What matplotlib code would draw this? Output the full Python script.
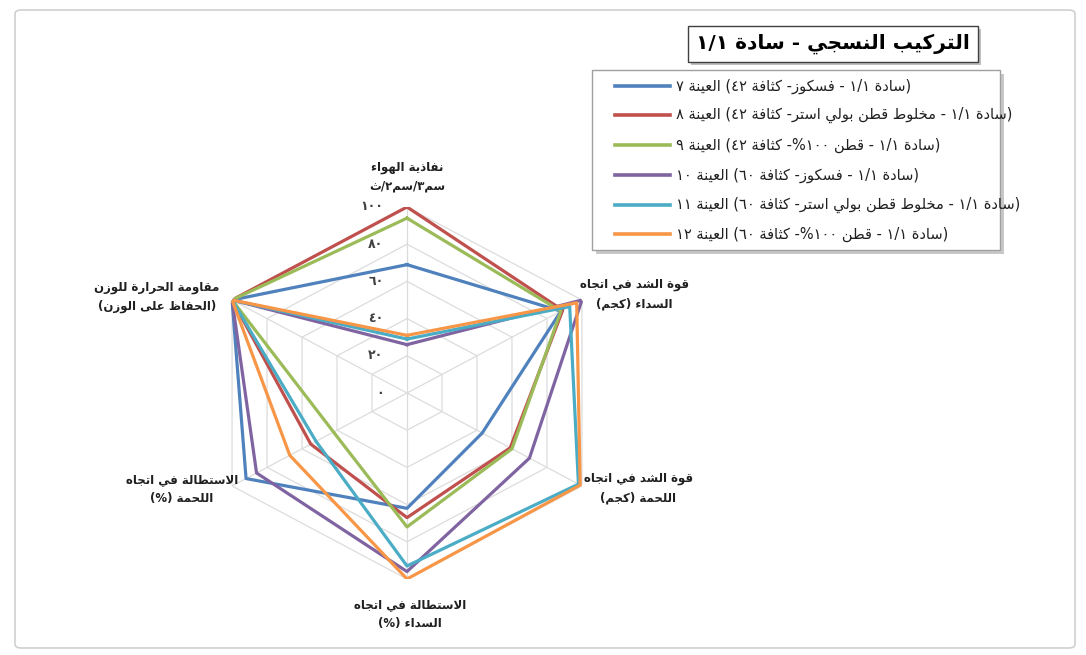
import re
import numpy as np
import matplotlib
matplotlib.use("Agg")
import matplotlib.pyplot as plt
from matplotlib.patches import FancyBboxPatch, Rectangle

# ---------------- data ----------------
categories = [
    ["نفاذية الهواء", "سم٣/سم٢/ث"],
    ["قوة الشد في اتجاه", "السداء (كجم)"],
    ["قوة الشد في اتجاه", "اللحمة (كجم)"],
    ["الاستطالة في اتجاه", "السداء (%)"],
    ["الاستطالة في اتجاه", "اللحمة (%)"],
    ["مقاومة الحرارة للوزن", "(الحفاظ على الوزن)"],
]

series_names = [
    "(سادة ١/١ - فسكوز- كثافة ٤٢) العينة ٧",
    "(سادة ١/١ - مخلوط قطن بولي استر- كثافة ٤٢) العينة ٨",
    "(سادة ١/١ - قطن ١٠٠%- كثافة ٤٢) العينة ٩",
    "(سادة ١/١ - فسكوز- كثافة ٦٠) العينة ١٠",
    "(سادة ١/١ - مخلوط قطن بولي استر- كثافة ٦٠) العينة ١١",
    "(سادة ١/١ - قطن ١٠٠%- كثافة ٦٠) العينة ١٢",
]

sample_7 = [69, 88, 43, 62, 92, 100]
sample_8 = [100, 89, 59, 67, 55, 100]
sample_9 = [94, 88, 60, 72, 42, 100]
sample_10 = [26, 100, 70, 96, 86, 100]
sample_11 = [29, 93, 98, 93, 52, 100]
sample_12 = [31, 97, 99, 100, 67, 100]
series_values = [sample_7, sample_8, sample_9, sample_10, sample_11, sample_12]

ring_values = [0, 20, 40, 60, 80, 100]
ring_labels = ["٠", "٢٠", "٤٠", "٦٠", "٨٠", "١٠٠"]

title_text = "التركيب النسجي - سادة ١/١"

colors = ["#4F81BD", "#C0504D", "#9BBB59", "#8064A2", "#4BACC6", "#F79646"]

# ---------------- arabic shaping for display ----------------
_dual = {'ئ': 0xFE89, 'ب': 0xFE8F, 'ت': 0xFE95, 'ث': 0xFE99, 'ج': 0xFE9D,
         'ح': 0xFEA1, 'خ': 0xFEA5, 'س': 0xFEB1, 'ش': 0xFEB5, 'ص': 0xFEB9,
         'ض': 0xFEBD, 'ط': 0xFEC1, 'ظ': 0xFEC5, 'ع': 0xFEC9, 'غ': 0xFECD,
         'ف': 0xFED1, 'ق': 0xFED5, 'ك': 0xFED9, 'ل': 0xFEDD, 'م': 0xFEE1,
         'ن': 0xFEE5, 'ه': 0xFEE9, 'ي': 0xFEF1}
_right = {'آ': 0xFE81, 'أ': 0xFE83, 'ؤ': 0xFE85, 'إ': 0xFE87, 'ا': 0xFE8D,
          'ة': 0xFE93, 'د': 0xFEA9, 'ذ': 0xFEAB, 'ر': 0xFEAD, 'ز': 0xFEAF,
          'و': 0xFEED, 'ى': 0xFEEF}
_lamalef = {'آ': 0xFEF5, 'أ': 0xFEF7, 'إ': 0xFEF9, 'ا': 0xFEFB}


def _shape(s):
    toks = []
    i = 0
    while i < len(s):
        if s[i] == 'ل' and i + 1 < len(s) and s[i + 1] in _lamalef:
            toks.append(('L', s[i + 1]))
            i += 2
        else:
            toks.append(('C', s[i]))
            i += 1

    def joins_next(t):
        return t[0] == 'C' and t[1] in _dual

    def joins_prev(t):
        return t[0] == 'L' or t[1] in _dual or t[1] in _right

    out = []
    for k, t in enumerate(toks):
        prev = toks[k - 1] if k > 0 else None
        nxt = toks[k + 1] if k + 1 < len(toks) else None
        cp = prev is not None and joins_next(prev) and joins_prev(t)
        cn = nxt is not None and joins_next(t) and joins_prev(nxt)
        if t[0] == 'L':
            out.append(chr(_lamalef[t[1]] + (1 if cp else 0)))
        elif t[1] in _dual:
            b = _dual[t[1]]
            off = 3 if (cp and cn) else 1 if cp else 2 if cn else 0
            out.append(chr(b + off))
        elif t[1] in _right:
            out.append(chr(_right[t[1]] + (1 if cp else 0)))
        else:
            out.append(t[1])
    return ''.join(out)


_mirror = str.maketrans('()[]', ')(][')


def rtl(s):
    t = _shape(s)
    runs = re.findall(r'[0-9٠-٩](?:[0-9٠-٩/.,]*[0-9٠-٩])?|[^0-9٠-٩]+', t)
    res = []
    for r in reversed(runs):
        if r[0] in '0123456789٠١٢٣٤٥٦٧٨٩':
            res.append(r)
        else:
            res.append(r[::-1].translate(_mirror))
    return ''.join(res)


# ---------------- figure ----------------
W, H = 1086, 655
fig = plt.figure(figsize=(W / 100, H / 100), dpi=100)
fig.patch.set_facecolor('white')


def fx(x):
    return x / W


def fy(y):
    return 1 - y / H


# outer chart frame
fig.patches.append(FancyBboxPatch((fx(15), fy(648)), fx(1075) - fx(15), fy(10) - fy(648),
                                  boxstyle="round,pad=0,rounding_size=0.006",
                                  transform=fig.transFigure, facecolor='none',
                                  edgecolor='#D0D0D0', linewidth=1.2, zorder=-5))

# radar axes (stretched horizontally)
ax = fig.add_axes([fx(205), fy(579), fx(609) - fx(205), fy(207) - fy(579)], projection='polar')
ax.set_zorder(2)
ax.set_aspect('auto')
ax.set_theta_offset(np.pi / 2)
ax.set_theta_direction(-1)
ax.set_ylim(0, 100)
ax.set_xticks([])
ax.set_yticks([])
ax.grid(False)
ax.spines['polar'].set_visible(False)
ax.patch.set_alpha(0)

n = len(categories)
theta = np.arange(n) * 2 * np.pi / n
theta_c = np.append(theta, theta[0])

grid_col = '#DCDCDC'
for rv in ring_values[1:]:
    ax.plot(theta_c, [rv] * (n + 1), color=grid_col, lw=0.9, zorder=1)
for t in theta:
    ax.plot([t, t], [0, ring_values[-1]], color=grid_col, lw=0.9, zorder=1)

for rv, lab in zip(ring_values, ring_labels):
    ax.annotate(lab, xy=(0, rv), xytext=(-17, 0), textcoords='offset points',
                ha='right', va='center', fontsize=9, fontweight='bold',
                color='#404040', family='DejaVu Sans')

for vals, col in zip(series_values, colors):
    ax.plot(theta_c, vals + vals[:1], color=col, lw=2.3, solid_joinstyle='round', zorder=3)

# category labels
label_pos = [(407, 177), (634, 294), (638, 488), (410, 614), (182, 489), (157, 297)]
for (l1, l2), (x, y) in zip(categories, label_pos):
    fig.text(fx(x), fy(y), rtl(l1) + "\n" + rtl(l2), ha='center', va='center',
             multialignment='center', fontsize=8.5, fontweight='bold', color='#202020',
             family='DejaVu Sans', linespacing=1.6)

# title box with shadow
fig.patches.append(Rectangle((fx(691), fy(65)), fx(981) - fx(691), fy(29) - fy(65),
                             transform=fig.transFigure, facecolor='#BFBFBF',
                             edgecolor='none', zorder=1))
fig.patches.append(Rectangle((fx(688), fy(62)), fx(978) - fx(688), fy(26) - fy(62),
                             transform=fig.transFigure, facecolor='white',
                             edgecolor='#404040', linewidth=1.0, zorder=2))
fig.text(fx(833), fy(44), rtl(title_text), ha='center', va='center', fontsize=14.5,
         fontweight='bold', color='black', family='DejaVu Sans', zorder=3)

# legend box with shadow
fig.patches.append(Rectangle((fx(596), fy(254)), fx(1004) - fx(596), fy(74) - fy(254),
                             transform=fig.transFigure, facecolor='#C8C8C8',
                             edgecolor='none', zorder=1))
fig.patches.append(Rectangle((fx(592), fy(250)), fx(1000) - fx(592), fy(70) - fy(250),
                             transform=fig.transFigure, facecolor='white',
                             edgecolor='#A0A0A0', linewidth=1.0, zorder=2))
row_y = [86, 115, 145, 175, 205, 234]
for name, col, y in zip(series_names, colors, row_y):
    fig.lines.append(plt.Line2D([fx(615), fx(670)], [fy(y), fy(y)], transform=fig.transFigure,
                                color=col, lw=2.6, zorder=3))
    fig.text(fx(676), fy(y), rtl(name), ha='left', va='center', fontsize=10.5,
             color='#202020', family='DejaVu Sans', zorder=3)

fig.savefig('out.png', dpi=100)
